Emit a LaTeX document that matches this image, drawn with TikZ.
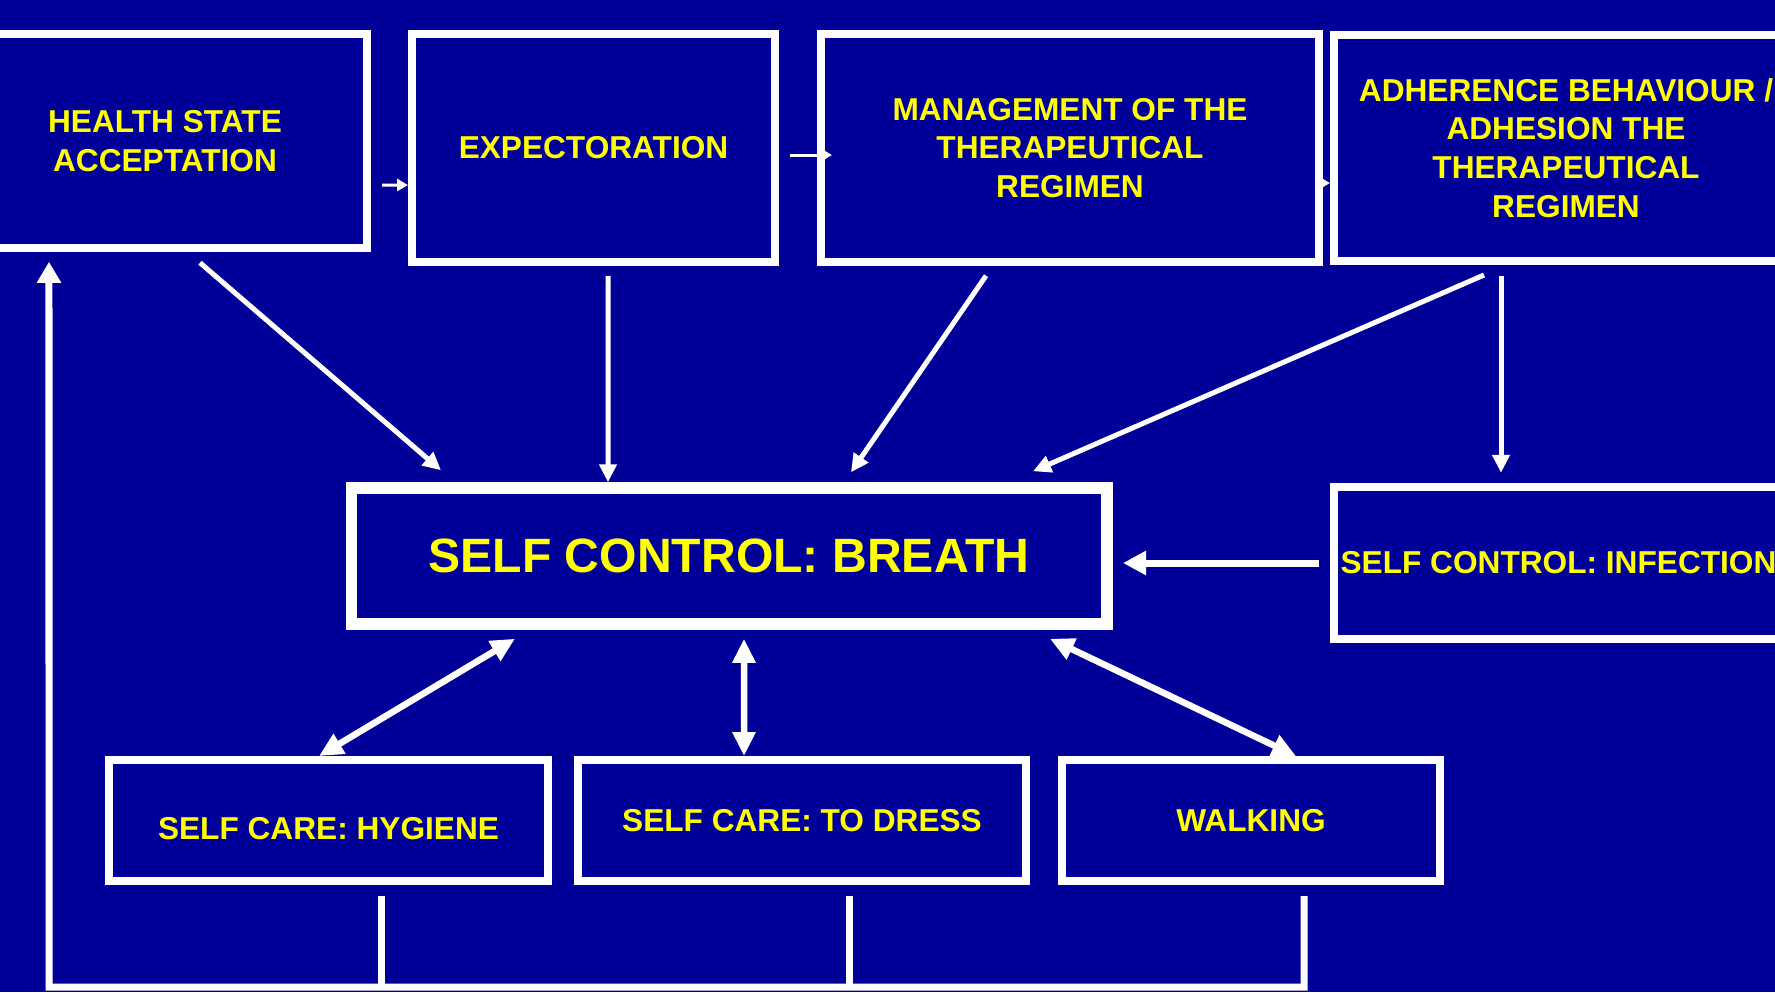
\documentclass[tikz,border=0pt]{standalone}
\usepackage{fontspec}
\setmainfont{Liberation Sans}
\usepackage{xcolor}
\usetikzlibrary{positioning,arrows.meta}
\definecolor{slideblue}{RGB}{0,0,153}
\definecolor{labelyellow}{RGB}{255,255,0}

\begin{document}
\begin{tikzpicture}[
    block/.style={rectangle, draw=white, line width=0.08cm, text=labelyellow, font=\fontsize{9}{11}\selectfont\bfseries, align=center, inner sep=0pt},
    mainblock/.style={block, line width=0.115cm, font=\fontsize{13.7}{16}\selectfont\bfseries},
    flow/.style={draw=white, line width=0.05cm, -{Triangle[length=0.18cm, width=0.17cm]}},
    shortflow/.style={draw=white, line width=0.03cm, -{Triangle[length=0.11cm, width=0.12cm]}},
    twoway/.style={draw=white, line width=0.065cm, {Triangle[length=0.24cm, width=0.22cm]}-{Triangle[length=0.24cm, width=0.22cm]}},
    loopline/.style={draw=white, line width=0.07cm}
]

% Slide background
\useasboundingbox (0,0) rectangle (17.75,-9.92);
\clip (0,0) rectangle (17.75,-9.92);
\fill[slideblue] (0,0) rectangle (17.75,-9.92);

% Top row
\node[block, minimum width=4.04cm, minimum height=2.135cm] (health) at (1.65,-1.41) {HEALTH STATE\\ACCEPTATION};
\node[block, minimum width=3.63cm, minimum height=2.275cm] (expect) at (5.935,-1.48) {EXPECTORATION};
\node[block, minimum width=4.98cm, minimum height=2.275cm] (manage) at (10.70,-1.48) {MANAGEMENT OF THE\\THERAPEUTICAL\\REGIMEN};
\node[block, minimum width=4.64cm, minimum height=2.26cm] (adhere) at (15.66,-1.48) {ADHERENCE BEHAVIOUR /\\ADHESION THE\\THERAPEUTICAL\\REGIMEN};

% Middle row
\node[mainblock, minimum width=7.555cm, minimum height=1.36cm] (breath) at (7.29,-5.56) {SELF CONTROL: BREATH};
\node[block, line width=0.085cm, minimum width=4.49cm, minimum height=1.52cm] (infect) at (15.585,-5.63) {SELF CONTROL: INFECTION};

% Bottom row
\node[block, minimum width=4.39cm, minimum height=1.21cm, text height=0.37cm, text depth=0cm] (hygiene) at (3.285,-8.205) {SELF CARE: HYGIENE};
\node[block, minimum width=4.48cm, minimum height=1.21cm] (dress) at (8.02,-8.205) {SELF CARE: TO DRESS};
\node[block, minimum width=3.78cm, minimum height=1.21cm] (walking) at (12.51,-8.205) {WALKING};

% Sequence along the top
\draw[shortflow, shorten <=0.11cm] ([yshift=-0.44cm]health.east) -- ([yshift=-0.37cm]expect.west);
\draw[shortflow, shorten <=0.11cm, shorten >=-0.15cm] ([yshift=-0.07cm]expect.east) -- ([yshift=-0.07cm]manage.west);
\draw[shortflow] ([yshift=-0.35cm]manage.east) -- ([yshift=-0.35cm]adhere.west);

% Into self control: breath
\draw[flow] ([shift={(0.35,-0.11)}]health.south) -- ([shift={(-2.88,0.12)}]breath.north);
\draw[flow] ([shift={(0.145,-0.10)}]expect.south) -- ([shift={(-1.21,0)}]breath.north);
\draw[flow] ([shift={(-0.84,-0.10)}]manage.south) -- ([shift={(1.22,0.10)}]breath.north);
\draw[flow] ([shift={(-0.82,-0.10)}]adhere.south) -- ([shift={(3.04,0.11)}]breath.north);
\draw[flow] ([shift={(-0.65,-0.11)}]adhere.south) -- ([shift={(-0.575,0.10)}]infect.north);
\draw[flow, line width=0.07cm, -{Triangle[length=0.23cm, width=0.23cm]}] ([xshift=-0.11cm]infect.west) -- ([shift={(0.105,-0.07)}]breath.east);

% Two-way links to the self care row
\draw[twoway] ([shift={(-2.14,-0.09)}]breath.south) -- ([xshift=-0.095cm]hygiene.north);
\draw[twoway] ([shift={(0.15,-0.09)}]breath.south) -- ([xshift=-0.58cm]dress.north);
\draw[twoway] ([shift={(3.21,-0.09)}]breath.south) -- ([xshift=0.45cm]walking.north);

% Feedback loop back to the first box
\coordinate (loopcorner) at (0.49,-9.87);
\draw[loopline] ([shift={(0.525,-0.11)}]hygiene.south) -- ++(0,-0.91);
\draw[loopline] ([shift={(0.47,-0.11)}]dress.south) -- ++(0,-0.91);
\draw[loopline, -{Triangle[length=0.21cm, width=0.23cm]}] ([shift={(0.53,-0.11)}]walking.south) |- (loopcorner) -- ([shift={(-1.16,-0.10)}]health.south);

\end{tikzpicture}
\end{document}
